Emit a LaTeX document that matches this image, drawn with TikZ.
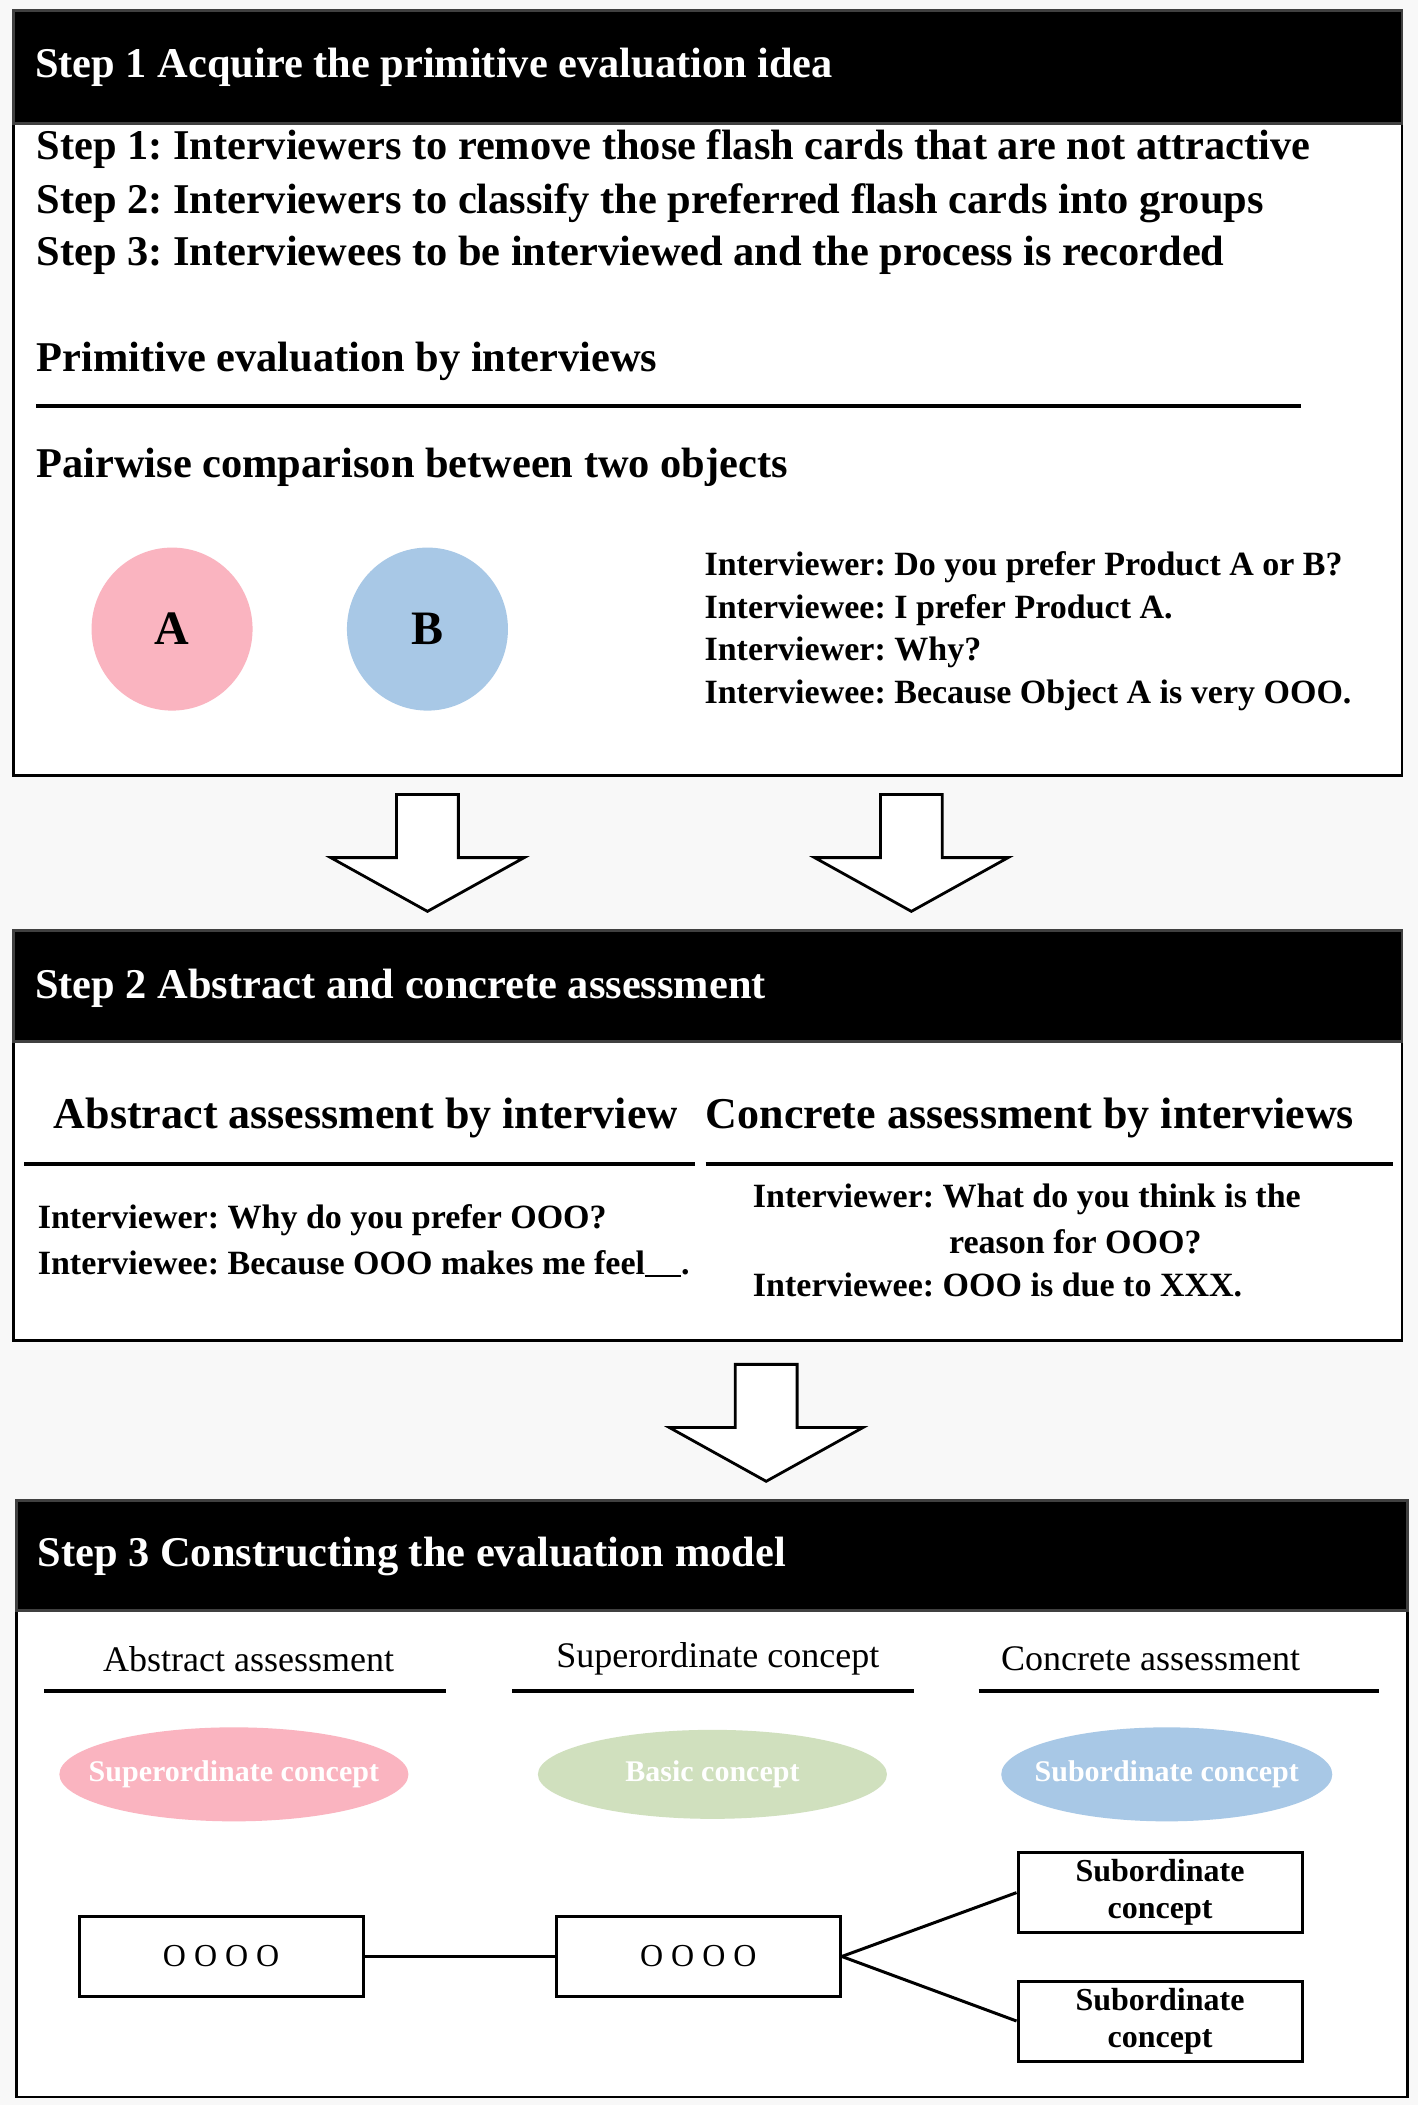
\documentclass[tikz,border=0pt]{standalone}
\usepackage{fontspec}
\setmainfont{Liberation Serif}
\usetikzlibrary{positioning, shapes.geometric}

\definecolor{bggray}{RGB}{248,248,248}
\definecolor{pinkobj}{RGB}{250,180,192}
\definecolor{blueobj}{RGB}{168,200,230}
\definecolor{greenobj}{RGB}{208,224,190}

\newcommand{\fs}[1]{\fontsize{#1}{1.15\dimexpr#1\relax}\selectfont}

\begin{document}
\frenchspacing
\begin{tikzpicture}[
    x=1.344pt, y=-1.344pt,
    panel/.style={draw=black, line width=2.8pt, fill=white},
    header/.style={fill=black, draw=black!75, line width=2.8pt},
    title/.style={anchor=west, inner sep=0pt, text=white, font=\fs{42.4pt}\bfseries},
    body/.style={anchor=west, inner sep=0pt, font=\fs{42.4pt}\bfseries},
    talk/.style={anchor=west, inner sep=0pt, font=\fs{34pt}\bfseries},
    subhead/.style={anchor=west, inner sep=0pt, font=\fs{44pt}\bfseries},
    colhead/.style={inner sep=0pt, font=\fs{36pt}},
    rule/.style={line width=3.5pt},
    object/.style={ellipse, minimum width=161pt, minimum height=163pt, font=\fs{48pt}\bfseries},
    concept/.style={ellipse, inner sep=0pt, minimum width=349pt, minimum height=94pt},
    conceptlabel/.style={inner sep=0pt, text=white, font=\fs{30pt}\bfseries},
    card/.style={draw, line width=3pt, fill=white, minimum width=284pt, minimum height=80pt, align=center, font=\fs{32pt}\bfseries},
    link/.style={line width=3pt},
    downarrow/.pic={
        \draw[line width=2.8pt, fill=white, line join=miter]
            (-23,0) -- (23,0) -- (23,47) -- (72,47) -- (0,87) -- (-72,47) -- (-23,47) -- cycle;
    }
]

% Background -------------------------------------------------

\fill[bggray] (0,0) rectangle (1055,1566);

% Step 1 ------------------------------------------------------

\draw[panel] (10,8) rectangle (1043,577);
\draw[header] (10,8) rectangle (1043,92);
\node[title] (title1) at (26,50) {Step 1 Acquire the primitive evaluation idea};

\node[body] (step1) at (27,111) {Step 1: Interviewers to remove those flash cards that are not attractive};
\node[body] (step2) at (27,151) {Step 2: Interviewers to classify the preferred flash cards into groups};
\node[body] (step3) at (27,190) {Step 3: Interviewees to be interviewed and the process is recorded};

\node[body] (prim) at (27,269) {Primitive evaluation by interviews};
\draw[rule] (27,302) -- (968,302);
\node[body] (pair) at (27,348) {Pairwise comparison between two objects};

\node[object, fill=pinkobj] (objA) at (128,468) {A};
\node[object, fill=blueobj] (objB) at (318,468) {B};

\node[talk] (ask1) at (524,422) {Interviewer: Do you prefer Product A or B?};
\node[talk] (ans1) at (524,454) {Interviewee: I prefer Product A.};
\node[talk] (ask2) at (524,485) {Interviewer: Why?};
\node[talk] (ans2) at (524,517) {Interviewee: Because Object A is very OOO.};

% Arrows ------------------------------------------------------

\pic at (318,591) {downarrow};
\pic at (678,591) {downarrow};

% Step 2 ------------------------------------------------------

\draw[panel] (10,692) rectangle (1043,997);
\draw[header] (10,692) rectangle (1043,775);
\node[title] (title2) at (26,735) {Step 2 Abstract and concrete assessment};

\begin{scope}
  \clip (18,800) rectangle (503,862);
  \node[subhead] (abshead) at (40,832) {Abstract assessment by interviews};
\end{scope}
\node[subhead] (conhead) at (525,832) {Concrete assessment by interviews};
\draw[rule] (18,866) -- (517,866);
\draw[rule] (525,866) -- (1036,866);

\node[talk] (absask) at (28,908) {Interviewer: Why do you prefer OOO?};
\node[talk] (absans) at (28,940) {Interviewee: Because OOO makes me feel\rule[-3pt]{36pt}{2.5pt}.};

\node[talk] (conask) at (560,892) {Interviewer: What do you think is the};
\node[talk, anchor=center] (conask2) at (800,924) {reason for OOO?};
\node[talk] (conans) at (560,956) {Interviewee: OOO is due to XXX.};

\pic at (570,1015) {downarrow};

% Step 3 ------------------------------------------------------

\draw[panel] (12,1116) rectangle (1047,1560);
\draw[header] (12,1116) rectangle (1047,1198);
\node[title] (title3) at (28,1158) {Step 3 Constructing the evaluation model};

\node[colhead] (colabs) at (185,1234) {Abstract assessment};
\node[colhead] (colsup) at (534,1234) {Superordinate concept};
\node[colhead] (colcon) at (856,1234) {Concrete assessment};
\draw[rule] (33,1258) -- (332,1258);
\draw[rule] (381,1258) -- (680,1258);
\draw[rule] (728,1258) -- (1026,1258);

\node[concept, fill=pinkobj] (supc) at (174,1320) {};
\node[concept, fill=greenobj, minimum height=89pt] (basc) at (530,1320) {};
\node[concept, fill=blueobj, minimum width=331pt] (subc) at (868,1320) {};
\node[conceptlabel] (supctext) at (supc) {Superordinate concept};
\node[conceptlabel] (basctext) at (basc) {Basic concept};
\node[conceptlabel] (subctext) at (subc) {Subordinate concept};

\node[card, font=\fs{32pt}\addfontfeature{LetterSpace=25}] (absbox) at (164.5,1455.5) {OOOO};
\node[card, font=\fs{32pt}\addfontfeature{LetterSpace=25}] (basbox) at (519.5,1455.5) {OOOO};
\node[card] (subbox1) at (863,1408) {Subordinate\\concept};
\node[card] (subbox2) at (863,1503.5) {Subordinate\\concept};

\draw[link] (absbox) -- (basbox);
\draw[link] (basbox.east) -- (subbox1.west);
\draw[link] (basbox.east) -- (subbox2.west);

\end{tikzpicture}
\end{document}
